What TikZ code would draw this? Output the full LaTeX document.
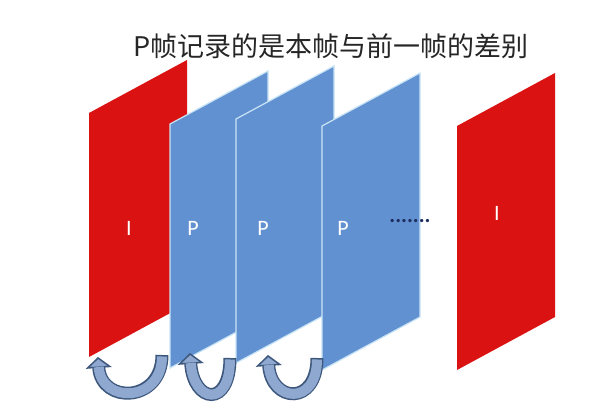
\documentclass[tikz,border=0pt]{standalone}
\usepackage{fontspec}
\setmainfont{Carlito}
\newfontfamily\cjk{Noto Sans CJK SC}
\usetikzlibrary{arrows.meta}
\definecolor{framered}{RGB}{218,18,18}
\definecolor{frameblue}{RGB}{98,145,210}
\definecolor{frameedge}{RGB}{200,228,245}
\definecolor{loopfill}{RGB}{143,168,208}
\definecolor{loopline}{RGB}{62,88,125}
\definecolor{dotblue}{RGB}{30,45,95}
% slanted frame: lower left corner, style
\newcommand{\vframe}[3]{\path[#3] (#1,#2) -- ++(0,244) -- ++(98,53) -- ++(0,-244) -- cycle;}
% band arrow: tail, head, looseness
\newcommand{\bandloop}[3]{%
  \draw[loopout] (#1) to[out=-90, in=-86, looseness=#3] (#2);
  \draw[loopin] (#1) to[out=-90, in=-86, looseness=#3] (#2);}

\begin{document}
\begin{tikzpicture}[x=1pt, y=1pt,
  iframe/.style={fill=framered},
  pframe/.style={fill=frameblue, draw=frameedge, line width=1.2pt},
  flabel/.style={text=white, font=\fontsize{22}{22}\selectfont},
  loopout/.style={draw=loopline, line width=13pt, -{Triangle[width=26pt, length=11pt, line width=1.5pt, fill=loopfill]}},
  loopin/.style={draw=loopfill, line width=10pt, shorten <=1.5pt, shorten >=10pt}]
\useasboundingbox (0,0) rectangle (613,412);

% Title
\node[font=\cjk\fontsize{27}{27}\selectfont, text=black!85] (title) at (331,366) {P帧记录的是本帧与前一帧的差别};

% Frames, back to front
\vframe{89}{55}{iframe}
\vframe{170}{44}{pframe}
\vframe{236}{49}{pframe}
\vframe{322}{42}{pframe}
\vframe{457}{42}{iframe}

% Frame labels
\node[flabel] (i1) at (129,184) {I};
\node[flabel] (p1) at (193,184) {P};
\node[flabel] (p2) at (263,184) {P};
\node[flabel] (p3) at (343,184) {P};
\node[flabel] (i2) at (497,199) {I};
\node[text=dotblue, font=\bfseries\fontsize{22}{22}\selectfont, anchor=base] (dots) at (410,189) {.......};

% Ends of the reference arrows
\coordinate (tail1) at (162,57);
\coordinate (head1) at (98,55);
\coordinate (tail2) at (230,54);
\coordinate (head2) at (190,59);
\coordinate (tail3) at (317,54);
\coordinate (head3) at (268,57);

% Each P frame refers back to the one before
\bandloop{tail1}{head1}{1.9}
\bandloop{tail2}{head2}{3.2}
\bandloop{tail3}{head3}{2.5}
\end{tikzpicture}
\end{document}
